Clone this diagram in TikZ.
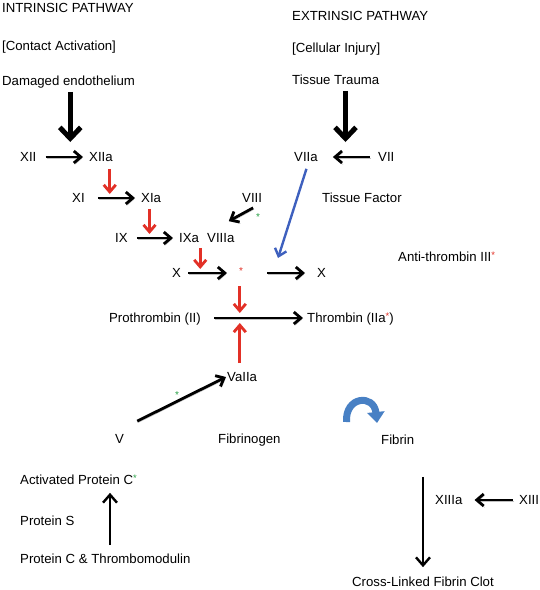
\documentclass[tikz,border=0pt]{standalone}
\usepackage{fontspec}
\setmainfont{Liberation Sans}
\usetikzlibrary{arrows.meta,calc}
\definecolor{ared}{RGB}{226,48,38}
\definecolor{ablue}{RGB}{62,96,190}
\definecolor{agreen}{RGB}{40,160,70}
\definecolor{cblue}{RGB}{72,128,196}
\newcommand{\rast}{{\color{ared}\raisebox{3pt}{\fontsize{9.5}{9.5}\selectfont *}}}
\newcommand{\gast}{{\color{agreen}\raisebox{3pt}{\fontsize{9.5}{9.5}\selectfont *}}}
\begin{document}
\begin{tikzpicture}[x=1pt,y=-1pt,
 lab/.style={inner sep=0pt, text height=9.3pt, text depth=0pt, anchor=west, font=\fontsize{13.2}{15}\selectfont},
 ast/.style={inner sep=0pt, font=\fontsize{10}{10}\selectfont},
 shadowed/.style={preaction={draw=black!25, transform canvas={shift={(1pt,-1.5pt)}}}},
 harr/.style={line width=2.8pt, -{Straight Barb[length=7pt,width=12pt]}, shadowed},
 varr/.style={line width=5pt, -{Straight Barb[length=11pt,width=21pt]}, shadowed},
 rarr/.style={line width=2.8pt, draw=ared, -{Straight Barb[length=7pt,width=12pt]}},
 barr/.style={line width=2.4pt, draw=ablue, -{Straight Barb[length=7pt,width=12pt]}},
 tarr/.style={line width=2.4pt, -{Straight Barb[length=8pt,width=14pt]}}
]
\useasboundingbox (0,0) rectangle (540,590);
% texts
\node[lab] (intr) at (2,8) {INTRINSIC PATHWAY};
\node[lab] (contact) at (2,46) {[Contact Activation]};
\node[lab] (damaged) at (2,81) {Damaged endothelium};
\node[lab] (extr) at (292,16) {EXTRINSIC PATHWAY};
\node[lab] (cell) at (292,48) {[Cellular Injury]};
\node[lab] (trauma) at (292,80) {Tissue Trauma};
\node[lab] (XII) at (20,157) {XII};
\node[lab] (XIIa) at (89,157) {XIIa};
\node[lab] (XI) at (72,198) {XI};
\node[lab] (XIa) at (141,198) {XIa};
\node[lab] (IX) at (115,238) {IX};
\node[lab] (IXa) at (179,238) {IXa};
\node[lab] (VIIIa) at (207,238) {VIIIa};
\node[lab] (VIII) at (242,198) {VIII};
\node[ast, text=agreen] (g1) at (258,217.2) {*};
\node[lab] (X) at (172,273) {X};
\node[ast, text=ared] (r1) at (241,271.2) {*};
\node[lab] (Xa) at (317,273) {X};
\node[lab] (VIIa) at (294,157) {VIIa};
\node[lab] (VII) at (378,157) {VII};
\node[lab] (TF) at (322,198) {Tissue Factor};
\node[lab] (AT) at (398,257) {Anti-thrombin III\rast};
\node[lab, anchor=east] (PT) at (201,318) {Prothrombin (II)};
\node[lab] (TH) at (307,318) {Thrombin (IIa\rast)};
\node[lab] (Va) at (227,377) {VaIIa};
\node[lab] (V) at (115,439) {V};
\node[lab] (FG) at (218,439) {Fibrinogen};
\node[lab] (FB) at (381,440) {Fibrin};
\node[ast, text=agreen] (g2) at (177,395.2) {*};
\node[lab] (APC) at (20,480) {Activated Protein C\gast};
\node[lab] (PS) at (20,521) {Protein S};
\node[lab] (PCT) at (20,559) {Protein C \& Thrombomodulin};
\node[lab] (XIIIa) at (435,500) {XIIIa};
\node[lab] (XIII) at (519,500) {XIII};
\node[lab] (clot) at (352,582) {Cross-Linked Fibrin Clot};
% intrinsic cascade
\draw[harr] ($(XII.east)+(9,0)$) -- coordinate[pos=0.66] (mA) ($(XIIa.west)+(-6,0)$);
\draw[varr] ($(mA |- damaged.south)+(0,6)$) -- ($(mA)+(0,-15)$);
\draw[harr] ($(XI.east)+(13,0)$) -- coordinate[pos=0.32] (m1) ($(XIa.west)+(-6,0)$);
\draw[rarr] ($(m1 |- XIIa.south)+(0,7)$) -- ($(m1)+(0,-4)$);
\draw[harr] ($(IX.east)+(9,0)$) -- coordinate[pos=0.35] (m2) ($(IXa.west)+(-6,0)$);
\draw[rarr] ($(m2 |- XIa.south)+(0,6)$) -- ($(m2)+(0,-4)$);
\draw[harr] ($(VIII.south)+(1,5)$) -- ($(VIIIa.north)+(8,-12)$);
\draw[harr] ($(X.east)+(7,0)$) -- coordinate[pos=0.31] (m3) ($(X.east -| r1)+(-14,0)$);
\draw[rarr] ($(m3 |- IXa.south)+(0,5)$) -- ($(m3)+(0,-4)$);
% extrinsic
\draw[harr] ($(VII.west)+(-8,0)$) -- coordinate[pos=0.66] (mB) ($(VIIa.east)+(15,0)$);
\draw[varr] ($(mB |- trauma.south)+(0,6)$) -- ($(mB)+(0,-15)$);
\draw[harr] ($(Xa.west -| r1)+(26,0)$) -- coordinate[pos=0.29] (m4) ($(Xa.west)+(-12,0)$);
\draw[barr] ($(VIIa.south)+(0.5,7)$) -- ($(m4)+(0,-15)$);
% common
\draw[harr] ($(PT.east)+(13,0)$) -- coordinate[pos=0.29] (m5) ($(TH.west)+(-4,0)$);
\draw[rarr] ($(m5 |- r1)+(0,15)$) -- ($(m5)+(0,-5)$);
\draw[rarr] ($(m5 |- Va.north)+(0,-9)$) -- ($(m5)+(0,5)$);
\draw[harr] ($(V.north east)+(13,-13)$) -- ($(Va.west)+(-1,0)$);
% fibrin
\draw[line width=7pt, draw=cblue, -{Triangle[length=11pt,width=17pt]}] (346.5,422) .. controls (345,396) and (374,394) .. (377,423);
\draw[tarr] ($(clot.north |- FB.south)+(0,32)$) -- ($(clot.north)+(0,-10)$);
\draw[harr] ($(XIII.west)+(-6,0)$) -- ($(XIIIa.east)+(12,0)$);
% protein C
\draw[tarr] ($(PCT.north west)+(90,-9)$) -- ($(APC.south west)+(90,8)$);
\end{tikzpicture}
\end{document}
